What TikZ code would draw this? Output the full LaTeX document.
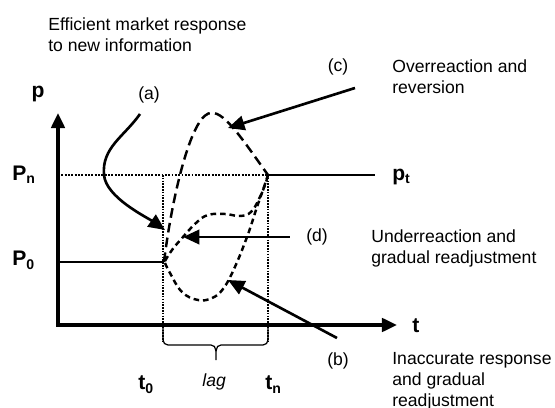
\documentclass[tikz,border=0pt]{standalone}
\usepackage{fontspec}
\setmainfont{Liberation Sans}
\usetikzlibrary{arrows.meta}
\definecolor{Ink}{HTML}{000000}
\definecolor{Paper}{HTML}{FFFFFF}

\begin{document}
\begin{tikzpicture}[axis/.style={{Triangle[length=3mm,width=2.7mm]}-{Triangle[length=3mm,width=2.7mm]},line width=1.8pt,draw=Ink},pointer/.style={-{Triangle[length=3.3mm,width=2.9mm]},line width=1.5pt,draw=Ink},level/.style={line width=0.7pt,draw=Ink},guide/.style={line width=1.4pt,dash pattern=on 1.1pt off 0.8pt,draw=Ink},vguide/.style={line width=0.9pt,dash pattern=on 0.9pt off 0.7pt,draw=Ink},over/.style={line width=1.4pt,dash pattern=on 5.5pt off 3pt,draw=Ink},under/.style={line width=1.4pt,dash pattern=on 3.2pt off 2.2pt,draw=Ink},sym/.style={font=\large\bfseries,text=Ink,inner sep=0pt},tag/.style={font=\normalsize,text=Ink,inner sep=0pt},note/.style={font=\normalsize,text=Ink,align=left,inner sep=0pt,anchor=north west}]
\fill[Paper] (0,0) rectangle (11.1,8.16);\useasboundingbox (0,0) rectangle (11.1,8.16);
\coordinate (O) at (1.16,1.66);\coordinate (ytip) at (1.16,5.90);\coordinate (xtip) at (7.94,1.66);\coordinate (S) at (3.28,2.92);\coordinate (E) at (5.36,4.66);\coordinate (pk) at (4.24,5.90);
\draw[level] (1.16,2.92)--(S);\draw[guide] (1.16,4.66)--(E);\draw[level] (E)--(7.50,4.66);\draw[vguide] (3.26,4.66)--(3.26,1.34);\draw[vguide] (5.36,4.66)--(5.36,1.34);
\draw[axis] (ytip)--(O)--(xtip);
\draw[level] (3.26,1.66)--(3.26,1.36) to[out=-90,in=180] (3.36,1.26)--(4.22,1.26) to[out=0,in=90] (4.32,0.96) to[out=90,in=180] (4.42,1.26)--(5.26,1.26) to[out=0,in=-90] (5.36,1.36)--(5.36,1.66);
\draw[over] (S) .. controls (3.45,4.3) and (3.85,5.95) .. (pk) .. controls (4.5,5.92) and (4.9,5.3) .. (E);
\draw[under] plot[smooth,tension=0.7] coordinates {(3.30,2.94) (3.44,3.16) (3.66,3.42) (3.92,3.70) (4.16,3.86) (4.50,3.88) (4.80,3.84) (5.02,3.92) (5.18,4.18) (5.30,4.46) (5.36,4.66)};
\draw[under] plot[smooth,tension=0.7] coordinates {(3.30,2.90) (3.40,2.70) (3.64,2.32) (3.96,2.16) (4.24,2.20) (4.46,2.38) (4.68,2.78) (4.94,3.42) (5.14,4.02) (5.28,4.42) (5.36,4.66)};
\coordinate (a0) at (2.80,5.88);\coordinate (a1) at (3.30,3.56);\coordinate (c0) at (7.10,6.40);\coordinate (c1) at (4.56,5.60);\coordinate (d0) at (5.80,3.42);\coordinate (d1) at (3.66,3.42);\coordinate (b0) at (6.74,1.40);\coordinate (b1) at (4.56,2.56);
\draw[pointer] (a0) to[out=235,in=95] (2.08,4.66) to[out=-85,in=145,looseness=0.7] (a1);\draw[pointer] (c0)--(c1);\draw[pointer] (d0)--(d1);\draw[pointer] (b0)--(b1);
\node[note] (effnote) at (0.96,7.82) {Efficient market response\\to new information};
\node[tag,anchor=base] (atag) at (2.98,6.18) {(a)};\node[tag,anchor=base] (ctag) at (6.76,6.72) {(c)};\node[tag,anchor=base] (dtag) at (6.34,3.32) {(d)};\node[tag,anchor=base] (btag) at (6.76,0.86) {(b)};
\node[note] (cnote) at (7.84,6.98) {Overreaction and\\reversion};\node[note] (dnote) at (7.42,3.58) {Underreaction and\\gradual readjustment};\node[note] (bnote) at (7.84,1.12) {Inaccurate response\\and gradual\\readjustment};
\node[sym,anchor=base] (plabel) at (0.76,6.22) {p};\node[sym,anchor=base west] (pn) at (0.24,4.56) {P\textsubscript{n}};\node[sym,anchor=base west] (p0) at (0.24,2.84) {P\textsubscript{0}};\node[sym,anchor=base west] (pt) at (7.84,4.56) {p\textsubscript{t}};
\node[sym,anchor=base west] (tlabel) at (8.24,1.50) {t};\node[sym,anchor=base west] (t0) at (2.76,0.36) {t\textsubscript{0}};\node[sym,anchor=base west] (tn) at (5.30,0.36) {t\textsubscript{n}};\node[tag,anchor=base west,font=\itshape] (lag) at (4.04,0.42) {lag};
\end{tikzpicture}
\end{document}
